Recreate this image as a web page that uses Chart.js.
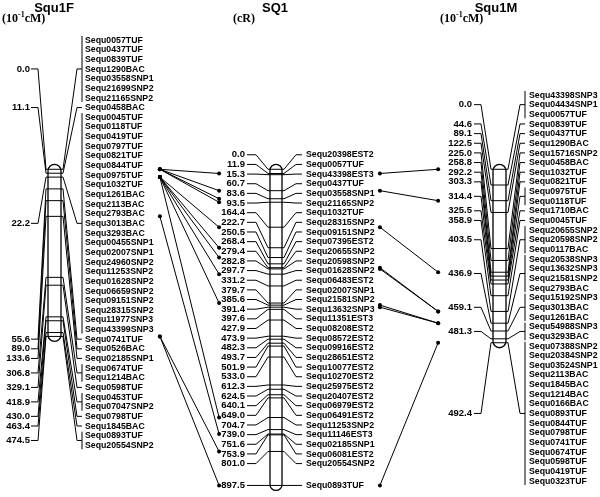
<!DOCTYPE html>
<html>
<head>
<meta charset="utf-8">
<script src="https://cdn.jsdelivr.net/npm/chart.js@4.4.1/dist/chart.umd.min.js"></script>
<style>
  html, body { margin: 0; padding: 0; background: #fff; }
  #wrap { width: 600px; height: 497px; position: relative; }
</style>
</head>
<body>
<div id="wrap"><canvas id="map"></canvas></div>
<script>
// Squ1F (female linkage map, 10^-1 cM)
const squ1fNames = [
  'Sequ0057TUF', 'Sequ0437TUF', 'Sequ0839TUF', 'Sequ1290BAC', 'Sequ03558SNP1', 'Sequ21699SNP2', 'Sequ21165SNP2',
  'Sequ0458BAC',
  'Sequ0045TUF', 'Sequ0118TUF', 'Sequ0419TUF', 'Sequ0797TUF', 'Sequ0821TUF', 'Sequ0844TUF', 'Sequ0975TUF',
  'Sequ1032TUF', 'Sequ1261BAC', 'Sequ2113BAC', 'Sequ2793BAC', 'Sequ3013BAC', 'Sequ3293BAC', 'Sequ00455SNP1',
  'Sequ02007SNP1', 'Sequ24960SNP2', 'Sequ11253SNP2', 'Sequ01628SNP2', 'Sequ06659SNP2', 'Sequ09151SNP2',
  'Sequ28315SNP2', 'Sequ11977SNP3', 'Sequ43399SNP3',
  'Sequ0741TUF', 'Sequ0526BAC', 'Sequ02185SNP1', 'Sequ0674TUF', 'Sequ1214BAC', 'Sequ0598TUF',
  'Sequ0453TUF', 'Sequ07047SNP2', 'Sequ0798TUF', 'Sequ1845BAC', 'Sequ0893TUF', 'Sequ20554SNP2'
];
const squ1fPos = [
  0, 0, 0, 0, 0, 0, 0,
  11.1,
  22.2, 22.2, 22.2, 22.2, 22.2, 22.2, 22.2, 22.2, 22.2, 22.2, 22.2, 22.2, 22.2, 22.2,
  22.2, 22.2, 22.2, 22.2, 22.2, 22.2, 22.2, 22.2, 22.2,
  55.6, 89.0, 133.6, 306.8, 306.8, 329.1, 418.9, 418.9, 430.0, 463.4, 474.5, 474.5
];

// SQ1 (radiation hybrid map, cR)
const sq1Names = [
  'Sequ20398EST2', 'Sequ0057TUF', 'Sequ43398EST3', 'Sequ0437TUF', 'Sequ03558SNP1', 'Sequ21165SNP2',
  'Sequ1032TUF', 'Sequ28315SNP2', 'Sequ09151SNP2', 'Sequ07395EST2', 'Sequ20655SNP2', 'Sequ20598SNP2',
  'Sequ01628SNP2', 'Sequ06483EST2', 'Sequ02007SNP1', 'Sequ21581SNP2', 'Sequ13632SNP3', 'Sequ11351EST3',
  'Sequ08208EST2', 'Sequ08572EST2', 'Sequ09916EST2', 'Sequ28651EST2', 'Sequ10077EST2', 'Sequ10270EST2',
  'Sequ25975EST2', 'Sequ20407EST2', 'Sequ06979EST2', 'Sequ06491EST2', 'Sequ11253SNP2', 'Sequ11146EST3',
  'Sequ02185SNP1', 'Sequ06081EST2', 'Sequ20554SNP2', 'Sequ0893TUF'
];
const sq1Pos = [
  0.0, 11.9, 15.3, 60.7, 83.6, 93.5, 164.4, 222.7, 250.5, 268.4, 279.4, 282.8,
  297.7, 331.2, 379.7, 385.6, 391.4, 397.6, 427.9, 473.9, 482.3, 493.7, 501.9, 533.0,
  612.3, 624.5, 640.1, 649.0, 704.7, 739.0, 751.6, 753.9, 801.0, 897.5
];

// Squ1M (male linkage map, 10^-1 cM)
const squ1mNames = [
  'Sequ43398SNP3', 'Sequ04434SNP1', 'Sequ0057TUF', 'Sequ0839TUF', 'Sequ0437TUF', 'Sequ1290BAC',
  'Sequ15716SNP2', 'Sequ0458BAC', 'Sequ1032TUF', 'Sequ0821TUF', 'Sequ0975TUF', 'Sequ0118TUF',
  'Sequ1710BAC', 'Sequ0045TUF', 'Sequ20655SNP2', 'Sequ20598SNP2', 'Sequ0117BAC', 'Sequ20538SNP3',
  'Sequ13632SNP3', 'Sequ21581SNP2', 'Sequ2793BAC', 'Sequ15192SNP3', 'Sequ3013BAC', 'Sequ1261BAC',
  'Sequ54988SNP3', 'Sequ3293BAC', 'Sequ07388SNP2', 'Sequ20384SNP2', 'Sequ03524SNP1', 'Sequ2113BAC',
  'Sequ1845BAC', 'Sequ1214BAC', 'Sequ0166BAC', 'Sequ0893TUF', 'Sequ0844TUF', 'Sequ0798TUF',
  'Sequ0741TUF', 'Sequ0674TUF', 'Sequ0598TUF', 'Sequ0419TUF', 'Sequ0323TUF'
];
const squ1mPos = [
  0, 0, 0, 44.6, 89.1, 122.5, 225.0, 258.8, 292.2, 303.3, 314.4, 314.4,
  325.5, 358.9, 403.5, 403.5, 403.5, 436.9, 436.9, 436.9, 436.9, 459.1, 459.1, 459.1,
  481.3, 481.3, 492.4, 492.4, 492.4, 492.4, 492.4, 492.4, 492.4, 492.4, 492.4, 492.4,
  492.4, 492.4, 492.4, 492.4, 492.4
];

// layout (pixels)
const H = 497;
const TOP_PX = 168;        // where position 0 sits
const PX_PER_UNIT = 0.358; // shared vertical scale for all three maps
const ROW = 9.65;          // spacing of marker name rows
const SQUEEZE = 0.92;      // the names are set a little narrow

const maps = [
  { title: 'Squ1F', unit: 'cM', names: squ1fNames, pos: squ1fPos,
    titleX: 54, unitX: 2, labelR: 30, tickL: 31, tickR: 38, barL: 48, barR: 61,
    knee: 77, bracket: 82, nameX: 85, rowMin: 40, rowMax: 470, linkOut: 158 },
  { title: 'SQ1', unit: 'cR', names: sq1Names, pos: sq1Pos,
    titleX: 275, unitX: 233, labelR: 245, tickL: 247, tickR: 256, barL: 270, barR: 282,
    knee: 296, bracket: 302, nameX: 306, rowMin: 40, rowMax: 492, linkIn: 218, linkOut: 381 },
  { title: 'Squ1M', unit: 'cM', names: squ1mNames, pos: squ1mPos,
    titleX: 496, unitX: 440, labelR: 472, tickL: 474, tickR: 481, barL: 493, barR: 506,
    knee: 520, bracket: 525, nameX: 529, rowMin: 40, rowMax: 481, linkIn: 440 }
];

// homologous markers between neighbouring maps
const linkSets = [];
for (let k = 0; k < maps.length - 1; k++) {
  const a = maps[k], b = maps[k + 1];
  a.names.forEach((name, i) => {
    const j = b.names.indexOf(name);
    if (j < 0) return;
    linkSets.push({
      data: [{ x: a.linkOut, y: a.pos[i] }, { x: b.linkIn, y: b.pos[j] }],
      showLine: true,
      borderColor: '#000',
      borderWidth: 1,
      pointRadius: 2,
      pointBackgroundColor: '#000',
      pointBorderWidth: 0
    });
  });
}

// spread labels: crowded ones are merged into evenly spaced blocks
function layoutRows(ideal, lo, hi) {
  let cl = ideal.map(y => ({ n: 1, sum: y }));
  const topOf = c => Math.min(Math.max(c.sum / c.n - (c.n - 1) * ROW / 2, lo), hi - (c.n - 1) * ROW);
  let merged = true;
  while (merged) {
    merged = false;
    for (let k = 1; k < cl.length; k++) {
      const a = cl[k - 1], b = cl[k];
      if (topOf(b) < topOf(a) + a.n * ROW - 0.01) {
        cl.splice(k - 1, 2, { n: a.n + b.n, sum: a.sum + b.sum });
        merged = true;
        break;
      }
    }
  }
  const out = [];
  cl.forEach(c => {
    const t = topOf(c);
    for (let i = 0; i < c.n; i++) out.push(t + i * ROW);
  });
  return out;
}

function line(ctx, pts) {
  ctx.beginPath();
  ctx.moveTo(pts[0][0], pts[0][1]);
  for (let i = 1; i < pts.length; i++) ctx.lineTo(pts[i][0], pts[i][1]);
  ctx.stroke();
}

function narrowText(ctx, txt, x, y) {
  ctx.save();
  ctx.translate(x, y);
  ctx.scale(SQUEEZE, 1);
  ctx.fillText(txt, 0, 0);
  ctx.restore();
}

function drawUnit(ctx, m) {
  ctx.fillStyle = '#000';
  ctx.textBaseline = 'alphabetic';
  ctx.textAlign = 'left';
  ctx.font = 'bold 12px "Liberation Serif", "Times New Roman", serif';
  let x = m.unitX;
  const base = 22;
  if (m.unit === 'cR') {
    ctx.fillText('(cR)', x, base);
    return;
  }
  ctx.fillText('(10', x, base);
  x += ctx.measureText('(10').width;
  ctx.font = 'bold 8px "Liberation Serif", serif';
  ctx.fillText('-1', x, base - 5);
  x += ctx.measureText('-1').width;
  ctx.font = 'bold 12px "Liberation Serif", "Times New Roman", serif';
  ctx.fillText('cM)', x, base);
}

function drawMap(ctx, ys, m) {
  const rowY = layoutRows(m.pos.map(p => ys.getPixelForValue(p)), m.rowMin, m.rowMax);
  // markers sharing a position form one group
  const groups = [];
  m.pos.forEach((p, i) => {
    let g = groups[groups.length - 1];
    if (!g || g.pos !== p) { g = { pos: p, rows: [] }; groups.push(g); }
    g.rows.push(i);
  });

  ctx.strokeStyle = '#000';
  ctx.fillStyle = '#000';

  // title + unit
  ctx.font = 'bold 13px "Liberation Sans", Arial, sans-serif';
  ctx.textAlign = 'center';
  ctx.textBaseline = 'middle';
  ctx.fillText(m.title, m.titleX, 8);
  drawUnit(ctx, m);

  // chromosome bar
  const top = ys.getPixelForValue(m.pos[0]) - 5;
  const bot = ys.getPixelForValue(m.pos[m.pos.length - 1]) + 5;
  const w = m.barR - m.barL, r = w / 2, cx = m.barL + r;
  ctx.lineWidth = 1.3;
  ctx.beginPath();
  ctx.arc(cx, top + r, r, Math.PI, 0);
  ctx.lineTo(m.barR, bot - r);
  ctx.arc(cx, bot - r, r, 0, Math.PI);
  ctx.closePath();
  ctx.stroke();

  ctx.lineWidth = 1;
  ctx.font = 'bold 9.5px "Liberation Sans", Arial, sans-serif';
  ctx.textBaseline = 'middle';
  groups.forEach(g => {
    const ty = ys.getPixelForValue(g.pos);
    const y0 = rowY[g.rows[0]], y1 = rowY[g.rows[g.rows.length - 1]];
    const cy = (y0 + y1) / 2;
    line(ctx, [[m.barL, ty], [m.barR, ty]]);
    line(ctx, [[m.tickL, cy], [m.tickR, cy], [m.barL - 2, ty], [m.barL, ty]]);
    line(ctx, [[m.barR, ty], [m.barR + 2, ty], [m.knee, cy], [m.bracket, cy]]);
    if (g.rows.length > 1) line(ctx, [[m.bracket, y0 - 4], [m.bracket, y1 + 4]]);
    ctx.textAlign = 'right';
    ctx.fillText(g.pos.toFixed(1), m.labelR, cy);
  });
  ctx.textAlign = 'left';
  m.names.forEach((n, i) => narrowText(ctx, n, m.nameX, rowY[i]));
}

const mapPlugin = {
  id: 'mapPlugin',
  afterDatasetsDraw(chart) {
    const ctx = chart.ctx;
    ctx.save();
    maps.forEach(m => drawMap(ctx, chart.scales.y, m));
    ctx.restore();
  }
};

new Chart(document.getElementById('map'), {
  type: 'scatter',
  data: { datasets: linkSets },
  options: {
    responsive: true,
    maintainAspectRatio: false,
    animation: false,
    layout: { padding: 0 },
    plugins: { legend: { display: false }, tooltip: { enabled: false } },
    scales: {
      x: { type: 'linear', min: 0, max: 600, display: false },
      y: { type: 'linear', reverse: true, display: false,
           min: -TOP_PX / PX_PER_UNIT, max: (H - TOP_PX) / PX_PER_UNIT }
    }
  },
  plugins: [mapPlugin]
});
</script>
</body>
</html>
